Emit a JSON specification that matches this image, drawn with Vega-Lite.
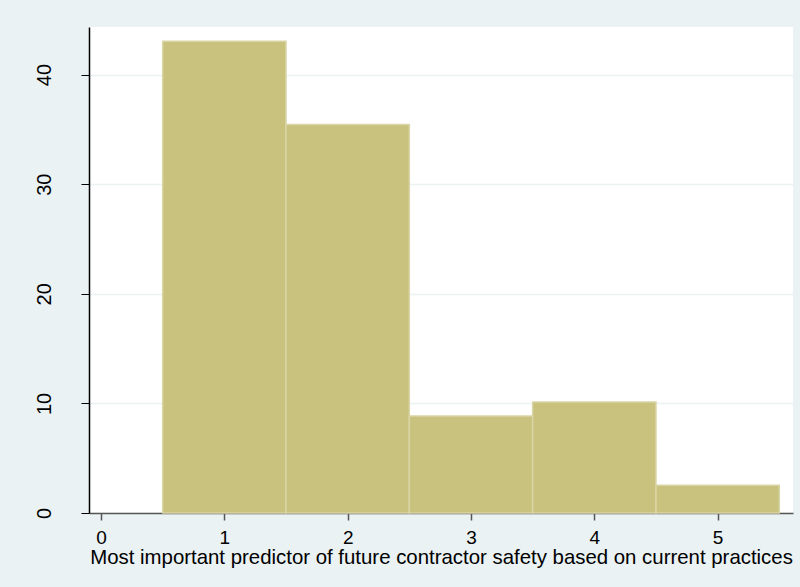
{
  "$schema": "https://vega.github.io/schema/vega-lite/v6.json",
  "autosize": "none",
  "width": 704,
  "height": 486,
  "padding": {"left": 89, "top": 27, "right": 7, "bottom": 74},
  "background": "#EAF2F3",
  "config": {
    "view": {"fill": "white", "stroke": null},
    "font": "Liberation Sans"
  },
  "data": {
    "values": [
      {"category": 1, "start": 0.5, "end": 1.5, "percent": 43.04},
      {"category": 2, "start": 1.5, "end": 2.5, "percent": 35.44},
      {"category": 3, "start": 2.5, "end": 3.5, "percent": 8.86},
      {"category": 4, "start": 3.5, "end": 4.5, "percent": 10.13},
      {"category": 5, "start": 4.5, "end": 5.5, "percent": 2.53}
    ]
  },
  "mark": {"type": "bar", "fill": "#C9C27F", "stroke": "#DAD5A6", "strokeWidth": 1.5},
  "encoding": {
    "x": {
      "field": "start",
      "type": "quantitative",
      "scale": {"domain": [-0.0973, 5.611], "nice": false, "zero": false},
      "axis": {
        "values": [0, 1, 2, 3, 4, 5],
        "title": "Most important predictor of future contractor safety based on current practices",
        "titleFont": "Liberation Sans",
        "titleFontSize": 20.4,
        "titleFontWeight": "normal",
        "titleColor": "#000000",
        "titlePadding": 0,
        "labelFontSize": 19,
        "labelColor": "#000000",
        "labelPadding": 8,
        "labelBaseline": "top",
        "tickColor": "#555555",
        "tickSize": 7,
        "tickWidth": 1.5,
        "domainColor": "#555555",
        "domainWidth": 1.5,
        "grid": false
      }
    },
    "x2": {"field": "end"},
    "y": {
      "field": "percent",
      "type": "quantitative",
      "scale": {"domain": [0, 44.34], "nice": false},
      "axis": {
        "values": [0, 10, 20, 30, 40],
        "title": null,
        "labelAngle": -90,
        "labelFontSize": 20,
        "labelColor": "#000000",
        "labelPadding": 27,
        "tickColor": "#000000",
        "tickSize": 8,
        "tickWidth": 1,
        "domainColor": "#000000",
        "domainWidth": 1.5,
        "grid": true,
        "gridColor": "#EAF2F3",
        "gridWidth": 1.5
      }
    },
    "y2": {"datum": 0}
  }
}
